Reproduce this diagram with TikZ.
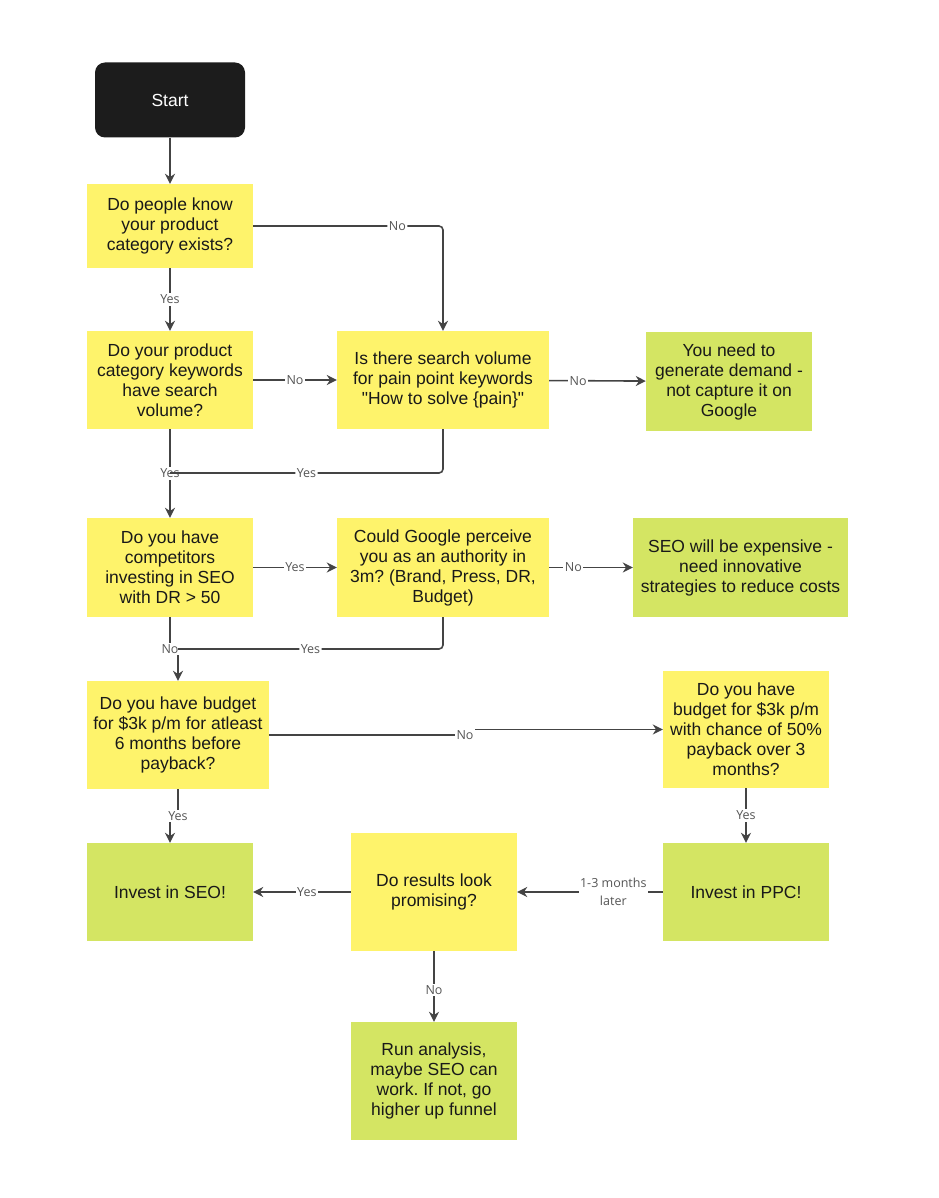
\documentclass[tikz,border=0pt]{standalone}
\usepackage{fontspec}
\setmainfont{Liberation Sans}
\newfontfamily\labelfont{Open Sans}
\usetikzlibrary{arrows.meta}
\frenchspacing

\definecolor{qyellow}{HTML}{FEF36B}
\definecolor{agreen}{HTML}{D4E563}
\definecolor{startblack}{HTML}{1C1C1C}
\definecolor{linegray}{HTML}{444444}
\definecolor{labgray}{HTML}{555555}

\tikzset{
    box/.style={rectangle, inner sep=0pt, align=center, text=black!90,
        font=\fontsize{17.5}{20}\selectfont},
    question/.style={box, fill=qyellow},
    answer/.style={box, fill=agreen},
    line/.style={draw=linegray, line width=1.6pt},
    conn/.style={line, -{Stealth[length=10pt,width=10pt]}},
    lab/.style={fill=white, inner sep=1.5pt, text=labgray, align=center,
        font=\labelfont\fontsize{12.5}{18}\selectfont}
}

\begin{document}
\begin{tikzpicture}[x=1pt, y=-1pt]
        \useasboundingbox (0,0) rectangle (938,1198);

        % Start
        \node[box, fill=startblack, text=white, rounded corners=10pt,
            minimum width=150pt, minimum height=75pt] (start) at (170,100) {Start};

        % Questions (yellow)
        \node[question, minimum width=166pt, minimum height=84pt] (know) at (170,226)
            {Do people know\\your product\\category exists?};
        \node[question, minimum width=166pt, minimum height=98pt] (kw) at (170,380)
            {Do your product\\category keywords\\have search\\volume?};
        \node[question, minimum width=212pt, minimum height=98pt] (pain) at (443,380)
            {Is there search volume\\for pain point keywords\\\textquotedbl How to solve \{pain\}\textquotedbl};
        \node[question, minimum width=166pt, minimum height=99pt] (comp) at (170,567.5)
            {Do you have\\competitors\\investing in SEO\\with DR > 50};
        \node[question, minimum width=212pt, minimum height=99pt] (auth) at (443,567.5)
            {Could Google perceive\\you as an authority in\\3m? (Brand, Press, DR,\\Budget)};
        \node[question, minimum width=182pt, minimum height=108pt] (budget) at (178,735)
            {Do you have budget\\for \$3k p/m for atleast\\6 months before\\payback?};
        \node[question, minimum width=166pt, minimum height=117pt] (ppcq) at (746,729.5)
            {Do you have\\budget for \$3k p/m\\with chance of 50\%\\payback over 3\\months?};
        \node[question, minimum width=166pt, minimum height=118pt] (results) at (434,892)
            {Do results look\\promising?};

        % Outcomes (green)
        \node[answer, minimum width=166pt, minimum height=99pt] (demand) at (729,381.5)
            {You need to\\generate demand -\\not capture it on\\Google};
        \node[answer, minimum width=215pt, minimum height=99pt] (costly) at (740.5,567.5)
            {SEO will be expensive -\\need innovative\\strategies to reduce costs};
        \node[answer, minimum width=166pt, minimum height=98pt] (seo) at (170,892)
            {Invest in SEO!};
        \node[answer, minimum width=166pt, minimum height=98pt] (ppc) at (746,892)
            {Invest in PPC!};
        \node[answer, minimum width=166pt, minimum height=118pt] (analysis) at (434,1081)
            {Run analysis,\\maybe SEO can\\work. If not, go\\higher up funnel};

        % Junctions
        \coordinate (join1) at (170,473);
        \coordinate (join2) at (178,649);
        \coordinate (jog) at (465,732);

        % Connectors
        \draw[conn] (start) -- (know);
        \draw[conn, rounded corners=4pt] (know.east) -| node[lab, pos=0.38] {No} (pain.north);
        \draw[conn] (know) -- node[lab] {Yes} (kw);
        \draw[conn] (kw) -- node[lab] {No} (pain);
        \draw[conn] (pain) -- node[lab, pos=0.3] {No} (demand);
        \draw[conn] (kw) -- node[lab] {Yes} (comp);
        \draw[line, rounded corners=4pt] (pain.south) |- node[lab, pos=0.75] {Yes} (join1);
        \draw[conn] (comp) -- node[lab] {Yes} (auth);
        \draw[conn] (auth) -- node[lab, pos=0.29] {No} (costly);
        \draw[conn] (comp.south) |- node[lab] {No} (join2) -- (budget.north);
        \draw[line, rounded corners=4pt] (auth.south) |- node[lab, pos=0.75] {Yes} (join2);
        \draw[conn] (budget.east) -- (budget.east -| jog) node[lab] {No}
            -- (jog |- ppcq.west) -- (ppcq.west);
        \draw[conn] (budget.south) -- ++(0,27) node[lab] {Yes} -| (seo.north);
        \draw[conn] (ppcq) -- node[lab] {Yes} (ppc);
        \draw[conn] (ppc) -- node[lab, pos=0.34] {1-3 months\\later} (results);
        \draw[conn] (results) -- node[lab, pos=0.45] {Yes} (seo);
        \draw[conn] (results) -- node[lab, pos=0.55] {No} (analysis);

    \end{tikzpicture}
\end{document}
